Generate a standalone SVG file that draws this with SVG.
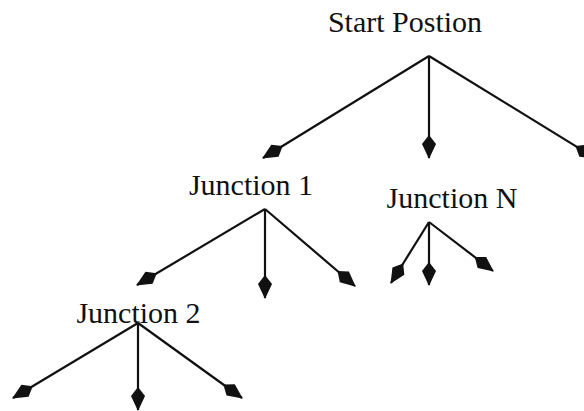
<svg xmlns="http://www.w3.org/2000/svg" width="584" height="411" viewBox="0 0 584 411">
  <style>
    .label { font-family: "Liberation Serif", "Times New Roman", serif; font-size: 30px; fill: #111; text-anchor: middle; }
    .edge { stroke: #111; stroke-width: 2.2; fill: none; marker-end: url(#head); }
  </style>
  <defs>
    <!-- kite-shaped filled arrowhead, tip at the line end -->
    <marker id="head" markerUnits="userSpaceOnUse" markerWidth="40" markerHeight="40" refX="0" refY="0" orient="auto" overflow="visible">
      <path d="M1,0 L-14,-7 L-23,0 L-14,7 Z" fill="#111"/>
    </marker>
  </defs>
  <rect width="584" height="411" fill="#fff"/>

  <g id="start">
    <text class="label" x="405" y="32">Start Postion</text>
  </g>
  <g id="junction1">
    <text class="label" x="251" y="195">Junction 1</text>
  </g>
  <g id="junctionN">
    <text class="label" x="452" y="208">Junction N</text>
  </g>
  <g id="junction2">
    <text class="label" x="138.5" y="323">Junction 2</text>
  </g>

  <g id="connectors">
    <line class="edge" x1="429" y1="56" x2="263" y2="158"/>
    <line class="edge" x1="429" y1="56" x2="429" y2="158"/>
    <line class="edge" x1="429" y1="56" x2="595" y2="158"/>

    <line class="edge" x1="265" y1="209" x2="137" y2="285"/>
    <line class="edge" x1="265" y1="209" x2="265" y2="298"/>
    <line class="edge" x1="265" y1="209" x2="355" y2="286"/>

    <line class="edge" x1="429" y1="222" x2="391" y2="283"/>
    <line class="edge" x1="429" y1="222" x2="429" y2="285"/>
    <line class="edge" x1="429" y1="222" x2="493" y2="271"/>

    <line class="edge" x1="138" y1="323" x2="13" y2="398"/>
    <line class="edge" x1="138" y1="323" x2="138" y2="410"/>
    <line class="edge" x1="138" y1="323" x2="242" y2="398"/>
  </g>
</svg>
